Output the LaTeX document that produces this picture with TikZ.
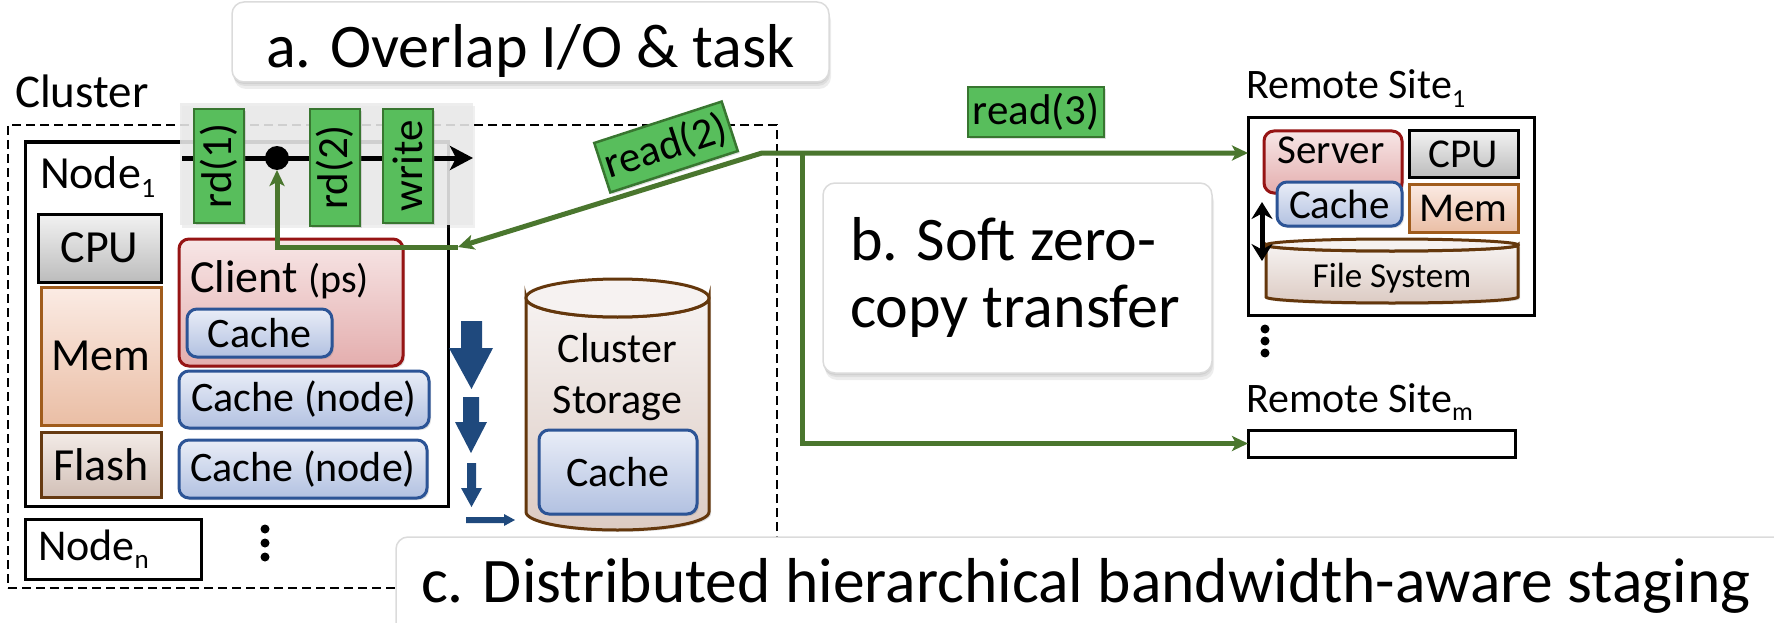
\documentclass[tikz,border=0pt]{standalone}
\usepackage{fontspec}
\setmainfont{Carlito}
\usetikzlibrary{arrows.meta,shadows}

\definecolor{flowgreen}{RGB}{74,118,46}
\definecolor{taggreen}{RGB}{88,190,92}
\definecolor{taggreenline}{RGB}{56,118,48}
\definecolor{arrowblue}{RGB}{31,73,125}
\definecolor{cachetop}{RGB}{233,237,247}
\definecolor{cachebot}{RGB}{178,193,225}
\definecolor{cacheline}{RGB}{44,84,150}
\definecolor{clienttop}{RGB}{247,230,230}
\definecolor{clientbot}{RGB}{228,174,174}
\definecolor{clientline}{RGB}{150,20,20}
\definecolor{cputop}{RGB}{242,242,242}
\definecolor{cpubot}{RGB}{188,188,188}
\definecolor{memtop}{RGB}{251,235,228}
\definecolor{membot}{RGB}{234,190,165}
\definecolor{memline}{RGB}{160,92,28}
\definecolor{flashtop}{RGB}{243,235,231}
\definecolor{flashbot}{RGB}{210,192,183}
\definecolor{flashline}{RGB}{102,58,18}
\definecolor{drumtop}{RGB}{246,242,241}
\definecolor{drumbot}{RGB}{220,203,195}
\definecolor{drumline}{RGB}{100,55,12}
\definecolor{panelgray}{RGB}{234,234,234}

\newcommand{\lowidx}[2]{\raisebox{-0.2em}{\fontsize{#1}{#1}\selectfont #2}}

\tikzset{
  fs/.style={font=\fontsize{#1}{#1}\selectfont},
  hw/.style={drop shadow={opacity=0.25, shadow xshift=2pt, shadow yshift=-2pt}},
  plainbox/.style={draw=black, line width=3pt, fill=white},
  cpubox/.style={draw=black, line width=3pt, top color=cputop, bottom color=cpubot, hw},
  membox/.style={draw=memline, line width=3pt, top color=memtop, bottom color=membot, hw},
  flashbox/.style={draw=flashline, line width=3pt, top color=flashtop, bottom color=flashbot, hw},
  clientbox/.style={draw=clientline, line width=3pt, rounded corners=10pt, top color=clienttop, bottom color=clientbot, hw},
  cachebox/.style={draw=cacheline, line width=3pt, rounded corners=10pt, top color=cachetop, bottom color=cachebot, hw},
  tagbox/.style={draw=taggreenline, line width=2.5pt, fill=taggreen, hw, fs=43},
  flowline/.style={draw=flowgreen, line width=5pt},
  flowtip/.style={-{Stealth[length=16pt,width=15pt,inset=4pt]}},
  softshadow/.style={
    drop shadow={opacity=0.14, shadow xshift=0pt, shadow yshift=-2pt},
    drop shadow={opacity=0.14, shadow xshift=1pt, shadow yshift=-4pt},
    drop shadow={opacity=0.14, shadow xshift=2pt, shadow yshift=-7pt}},
  callout/.style={fill=white, draw=black!14, line width=1.5pt, rounded corners=12pt, softshadow},
  dotmark/.style={circle, fill=black, minimum size=9pt},
}

\begin{document}
\begin{tikzpicture}[x=1pt, y=-1pt, every node/.style={inner sep=0pt, outer sep=0pt}]
\useasboundingbox (0,0) rectangle (1774,623);

% ---------- cluster ----------
\node[fs=47, anchor=base west] (clusterlabel) at (15,108) {Cluster};
\node[draw=black, line width=2.5pt, dash pattern=on 9pt off 5pt, anchor=north west,
      minimum width=769pt, minimum height=463pt] (cluster) at (8,125) {};

% node 1
\node[plainbox, anchor=north west, minimum width=423pt, minimum height=364pt] (node1) at (25,142) {};
\node[fs=46, anchor=base west] (node1label) at (40,188) {Node\lowidx{28}{1}};
\node[cpubox, fs=46, anchor=north west, minimum width=123pt, minimum height=68pt] (cpu) at (38,214) {CPU};
\node[membox, fs=46, anchor=north west, minimum width=120pt, minimum height=138pt] (mem) at (41,287) {Mem};
\node[flashbox, fs=46, anchor=north west, minimum width=120pt, minimum height=65pt] (flash) at (41,432) {Flash};

\node[clientbox, anchor=north west, minimum width=224pt, minimum height=127pt] (client) at (179,239) {};
\node[fs=46, anchor=base west] (clientlabel) at (190,292) {Client {\fontsize{40}{40}\selectfont (ps)}};
\node[cachebox, fs=42, anchor=north west, minimum width=145pt, minimum height=48pt] (ccache) at (187,309) {Cache\hspace{22pt}};
\node[cachebox, fs=42, anchor=north west, minimum width=250pt, minimum height=57pt] (ncache1) at (179,371) {Cache (node)};
\node[cachebox, fs=42, anchor=north west, minimum width=248pt, minimum height=58pt] (ncache2) at (179,440) {Cache (node)};

% node n
\node[plainbox, anchor=north west, minimum width=176pt, minimum height=60pt] (noden) at (25,519) {};
\node[fs=44, anchor=base west] (nodenlabel) at (38,560) {Node\lowidx{27}{n}};
\node[dotmark] (nd1) at (265,529) {};
\node[dotmark] (nd2) at (265,543) {};
\node[dotmark] (nd3) at (265,557) {};

% staging arrows
\fill[arrowblue] (461,321) -- (482,321) -- (482,348) -- (493,348) -- (471.5,389) -- (449,348) -- (461,348) -- cycle;
\fill[arrowblue] (463,397) -- (479,397) -- (479,422) -- (487,422) -- (471,453) -- (455,422) -- (463,422) -- cycle;
\fill[arrowblue] (467,463) -- (476,463) -- (476,488) -- (482,488) -- (471.5,507) -- (461,488) -- (467,488) -- cycle;
\fill[arrowblue] (466,517) -- (504,517) -- (504,514) -- (515,520) -- (504,526) -- (504,523) -- (466,523) -- cycle;

% cluster storage
\shade[top color=drumtop, bottom color=drumbot, draw=drumline, line width=3pt, hw]
  (526,298) -- (526,512) arc[start angle=180, end angle=0, x radius=91.5, y radius=18]
  -- (709,298) arc[start angle=0, end angle=180, x radius=91.5, y radius=19] -- cycle;
\draw[drumline, line width=3pt, fill=drumtop] (617.5,298) ellipse[x radius=91.5, y radius=19];
\node[fs=42, anchor=base] (storage1) at (617.5,362) {Cluster};
\node[fs=42, anchor=base] (storage2) at (617.5,413) {Storage};
\node[cachebox, fs=42, anchor=north west, minimum width=158pt, minimum height=84pt] (scache) at (539,430) {Cache};

% ---------- task timeline ----------
\node[fill=panelgray, fill opacity=0.88, anchor=north west, minimum width=293pt, minimum height=122pt,
      drop shadow={opacity=0.12, shadow xshift=2pt, shadow yshift=-3pt}] (panel) at (180,103) {};
\coordinate (tl0) at (182,158);
\coordinate (tl1) at (473,158);
\draw[line width=5pt, -{Stealth[length=23pt,width=24pt,inset=6pt]}] (tl0) -- (tl1);
\node[tagbox, rotate=90, minimum width=114pt, minimum height=50pt] (rd1) at (219,166) {rd(1)};
\node[tagbox, rotate=90, minimum width=117pt, minimum height=50pt] (rd2) at (335,167.5) {rd(2)};
\node[tagbox, rotate=90, minimum width=114pt, minimum height=50pt] (wr) at (408,166) {write};
\node[circle, fill=black, minimum size=24pt] (sync) at (277,158) {};

% ---------- remote sites ----------
\node[fs=42, anchor=base west] (rs1label) at (1246,99) {Remote Site\lowidx{26}{1}};
\node[plainbox, anchor=north west, minimum width=286pt, minimum height=197pt] (rs1) at (1248,118) {};
\node[clientbox, anchor=north west, minimum width=138pt, minimum height=62pt] (server) at (1264,131) {};
\node[fs=41, anchor=base] (serverlabel) at (1331,164) {Server};
\node[cpubox, fs=41, anchor=north west, minimum width=109pt, minimum height=46pt] (rcpu) at (1409,131) {CPU};
\node[cachebox, fs=41, anchor=north west, minimum width=125pt, minimum height=44pt] (rcache) at (1277,182) {Cache};
\node[membox, fs=41, anchor=north west, minimum width=109pt, minimum height=48pt] (rmem) at (1409,184) {Mem};
\shade[top color=drumtop, bottom color=drumbot, draw=drumline, line width=3pt, hw]
  (1266,245) -- (1266,297) arc[start angle=180, end angle=0, x radius=126, y radius=6]
  -- (1518,245) arc[start angle=0, end angle=180, x radius=126, y radius=6] -- cycle;
\draw[drumline, line width=3pt, fill=drumtop] (1392,245) ellipse[x radius=126, y radius=6];
\node[fs=35, anchor=base] (fslabel) at (1392,287) {File System};
\coordinate (fsa) at (1262,202);
\coordinate (fsb) at (1262,261);
\draw[line width=5pt, {Stealth[length=17pt,width=21pt]}-{Stealth[length=17pt,width=21pt]}] (fsa) -- (fsb);

\node[dotmark] (rdot1) at (1265,329) {};
\node[dotmark] (rdot2) at (1265,341) {};
\node[dotmark] (rdot3) at (1265,353) {};

\node[fs=42, anchor=base west] (rsmlabel) at (1246,412) {Remote Site\lowidx{26}{m}};
\node[plainbox, anchor=north west, minimum width=267pt, minimum height=27pt] (rsm) at (1248,430) {};

% ---------- data flow ----------
\coordinate (J) at (762,153);
\coordinate (V) at (802,153);
\coordinate (n1in) at (458,247);
\draw[flowline, {Stealth[length=16pt,width=15pt,inset=4pt]}-{Stealth[length=16pt,width=15pt,inset=4pt]}]
  (n1in) -- (J) -- (J -| rs1.west);
\draw[flowline, flowtip] (n1in) -- (sync.south |- n1in) -- (sync.south);
\draw[flowline, flowtip] (V) -- (V |- rsm.west) -- (rsm.west);
\node[tagbox, rotate=18, minimum width=134pt, minimum height=52pt] (rd2tag) at (666,147) {read(2)};
\node[tagbox, minimum width=136pt, minimum height=50pt] (rd3tag) at (1036,112) {read(3)};

% ---------- callouts ----------
\node[callout, anchor=north west, minimum width=597pt, minimum height=80pt] (calla) at (232,2) {};
\node[fs=62, anchor=base] (callatext) at (530.5,68) {a. Overlap I/O \& task};
\node[callout, anchor=north west, minimum width=389pt, minimum height=190pt] (callb) at (823,183) {};
\node[fs=62, anchor=base west] (callbtext1) at (850,260) {b. Soft zero-};
\node[fs=62, anchor=base west] (callbtext2) at (850,327) {copy transfer};
\node[callout, anchor=north west, minimum width=1450pt, minimum height=150pt] (callc) at (396,537) {};
\node[fs=63.5, anchor=base west] (callctext) at (421,602) {c. Distributed hierarchical bandwidth-aware staging};
\end{tikzpicture}
\end{document}
